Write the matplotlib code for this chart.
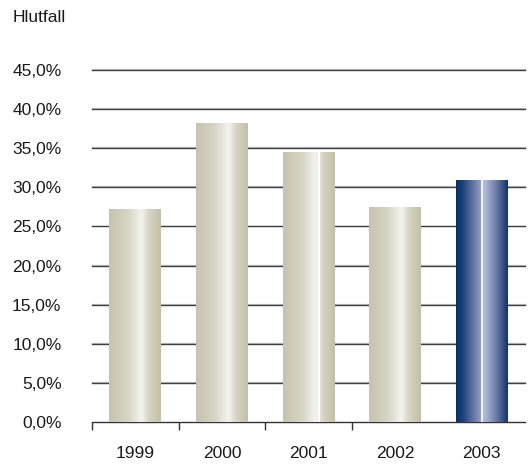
"""Bar chart: Hlutfall by year, with cylinder-like gradient bars."""

import matplotlib

matplotlib.use("Agg")
import matplotlib.pyplot as plt
import numpy as np
from matplotlib.colors import LinearSegmentedColormap

# --------------------------------------------------------------------- #
# Data
# --------------------------------------------------------------------- #
YEARS = ["1999", "2000", "2001", "2002", "2003"]
VALUES = [27.2, 38.2, 34.5, 27.5, 30.9]
Y_TICKS = [0, 5, 10, 15, 20, 25, 30, 35, 40, 45]
Y_LABELS = ["0,0%", "5,0%", "10,0%", "15,0%", "20,0%", "25,0%",
            "30,0%", "35,0%", "40,0%", "45,0%"]
HIGHLIGHT = "2003"

FONT = ["Liberation Sans", "DejaVu Sans"]
plt.rcParams["font.family"] = FONT

beige = LinearSegmentedColormap.from_list("beige", [
    (0.0, "#c6c4ae"), (0.35, "#d6d4c3"), (0.63, "#f4f3ee"),
    (0.78, "#d6d4c2"), (1.0, "#c2c0a8"),
])
navy = LinearSegmentedColormap.from_list("navy", [
    (0.0, "#06306a"), (0.12, "#1a3f77"), (0.46, "#8d97be"),
    (0.50, "#a4accc"), (0.54, "#b6bedc"), (0.78, "#6a7aa8"),
    (1.0, "#10336c"),
])

fig = plt.figure(figsize=(5.29, 4.66), dpi=100)
ax = fig.add_axes([92 / 529, 1 - 422 / 466, 433 / 529, 352 / 466])

x = np.arange(len(YEARS))
bars = ax.bar(x, VALUES, width=0.6, color="none", edgecolor="none", zorder=3)

# gradient fill clipped to each bar
grad = np.linspace(0, 1, 256).reshape(1, -1)
for year, rect in zip(YEARS, bars):
    x0, w, h = rect.get_x(), rect.get_width(), rect.get_height()
    cmap = navy if year == HIGHLIGHT else beige
    im = ax.imshow(grad, cmap=cmap, aspect="auto", extent=(x0, x0 + w, 0, h),
                   zorder=3, interpolation="bicubic")
    im.set_clip_path(rect)
    if year == HIGHLIGHT:
        ax.plot([x0 + 0.51 * w] * 2, [0, h], color="white", lw=1.2, zorder=4)
    elif year == "2001":
        ax.plot([x0 + 0.71 * w] * 2, [0, h], color="white", lw=1.6, zorder=4)

# gridlines (including the top one at 45 %)
for t in Y_TICKS[1:]:
    ax.axhline(t + 0.12, color="#c4c4c4", lw=0.9, zorder=1, clip_on=False)
    ax.axhline(t, color="#404040", lw=1.0, zorder=2, clip_on=False)

ax.set_xlim(-0.5, len(YEARS) - 0.5)
ax.set_ylim(0, 45)

for side in ["top", "right", "left"]:
    ax.spines[side].set_visible(False)
ax.spines["bottom"].set_color("#333333")
ax.spines["bottom"].set_linewidth(1.0)

ax.set_yticks(Y_TICKS)
ax.set_yticklabels(Y_LABELS)
ax.tick_params(axis="y", length=0, pad=22, labelsize=12.5, colors="#1a1a1a")

ax.set_xticks(x)
ax.set_xticklabels(YEARS)
ax.set_xticks(np.arange(len(YEARS) - 1) - 0.5, minor=True)
ax.tick_params(axis="x", which="major", length=0, pad=17, labelsize=12.5,
               colors="#1a1a1a")
ax.tick_params(axis="x", which="minor", length=6, width=1.0, color="#333333")

fig.text(13 / 529, 1 - 17 / 466, "Hlutfall", fontsize=12.5, color="#1a1a1a",
         va="center", ha="left")

fig.savefig("out.png", dpi=100)
